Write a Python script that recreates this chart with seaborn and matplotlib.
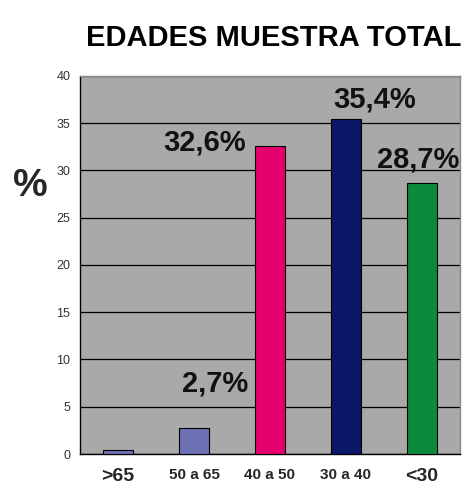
import numpy as np
import pandas as pd
import matplotlib
matplotlib.use("Agg")
import matplotlib.pyplot as plt
import seaborn as sns

edades = [">65", "50 a 65", "40 a 50", "30 a 40", "<30"]
porcentaje = [0.4, 2.7, 32.6, 35.4, 28.7]
etiquetas = ["", "2,7%", "32,6%", "35,4%", "28,7%"]
colores = ["#6D70B2", "#6D70B2", "#E5006D", "#0B1666", "#0B8A3C"]

df = pd.DataFrame({"edad": edades, "pct": porcentaje})

sns.set_style("white")
plt.rcParams["font.family"] = ["Liberation Sans", "DejaVu Sans"]

fig = plt.figure(figsize=(4.72, 4.86), dpi=100)
ax = fig.add_axes([0.1695, 0.0658, 0.805, 0.778])
ax.set_facecolor("#A9A9A9")

sns.barplot(data=df, x="edad", y="pct", hue="edad", palette=colores,
            saturation=1, width=0.4, edgecolor="black", linewidth=0.8,
            legend=False, zorder=3, ax=ax)

ax.set_ylim(0, 40)
ax.set_xlim(-0.5, 4.5)
ax.set_yticks(np.arange(0, 41, 5))
ax.yaxis.grid(True, color="black", linewidth=0.9, zorder=1)
ax.set_axisbelow(True)

# x ticks between categories
ax.set_xticks(np.arange(-0.5, 5, 1), minor=True)
ax.tick_params(axis="x", which="minor", length=5, width=1, color="black", direction="out")
ax.tick_params(axis="x", which="major", length=0, pad=10)
ax.tick_params(axis="y", length=4, width=1, color="black", direction="out",
               labelsize=9, labelcolor="#333333", pad=3)
ax.set_xticks(range(len(edades)))
ax.set_xticklabels(edades)
for i, t in enumerate(ax.get_xticklabels()):
    t.set_fontweight("bold")
    t.set_fontsize(14 if i in (0, 4) else 11)

for s in ["left", "bottom"]:
    ax.spines[s].set_color("black")
    ax.spines[s].set_linewidth(1)
for s in ["top", "right"]:
    ax.spines[s].set_color("#8A8A8A")
    ax.spines[s].set_linewidth(1)

ax.set_xlabel("")
ax.set_ylabel("%", fontsize=28, fontweight="bold", rotation=0,
              ha="center", va="center")
ax.yaxis.set_label_coords(-0.13, 0.71)

# label offsets (dx in categories, dy in %)
offs = [(0, 0), (0.28, 4.8), (-0.86, 0.4), (0.38, 2.1), (-0.05, 2.5)]
for i, (lab, v) in enumerate(zip(etiquetas, porcentaje)):
    if lab:
        dx, dy = offs[i]
        ax.text(i + dx, v + dy, lab, ha="center", va="center",
                fontsize=21, fontweight="bold", color="#111111", zorder=5)

fig.text(0.58, 0.922, "EDADES MUESTRA TOTAL", ha="center", va="center",
         fontsize=21, fontweight="bold", color="black")

fig.savefig("out.png", dpi=100, facecolor="white")
